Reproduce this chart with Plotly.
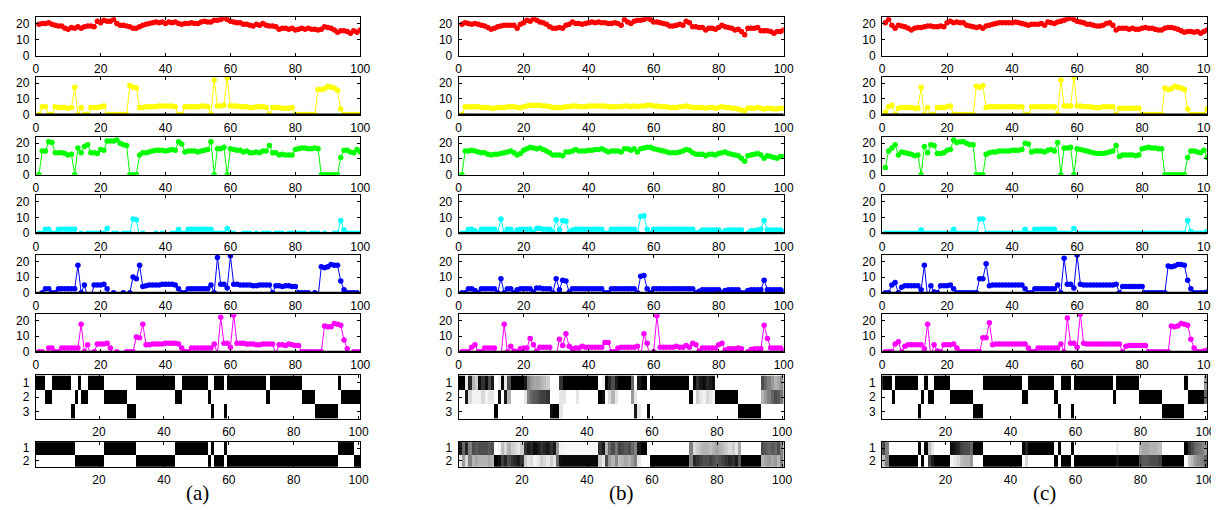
import plotly.graph_objects as go

# ---------------- data ----------------
x_idx = list(range(1, 101))

red_a = [19.5,20,20,20.5,19.5,19,18.5,18.5,17,16.5, 17.5,17,18,17,18,18.5,18.5,18,21.5,20.5,
         22,21.5,21.5,22.5,20,19,19,18.5,18,17, 17,18,19,19.5,20,20.5,21,20.5,21,20,
         21,20.5,21,20,19.5,20,20,20.5,20,20, 21,21.5,21,21,22,22,22.5,23.5,22.5,21.5,
         21,20.5,20.5,19.5,19.5,19,18.5,19.5,19,20, 19,18.5,18.5,18,16.5,17,17,16.5,17,16,
         16.5,17,16.5,17,16.5,16.5,16,16.5,18,17.5, 17,16,14.5,15.5,15.5,15,14,15.5,14.5,16]
yellow_a = [0,5,5,0,0,5,4.5,4.5,4.5,4, 4.5,17.5,0,4.5,0,0,4.5,4.5,4.5,5,
            5.5,0,0,0,0,0,0,0,18.5,17.5, 17,4.5,4.5,5,5,5,5,5.5,5.5,5.5,
            5.5,5.5,5,0,0,5,5,5,5,5, 5.5,5.5,5,0,22,5.5,5.5,6,23.5,5.5,
            5.5,5.5,5,5,5,4.5,4.5,5,5,5, 4.5,0,4.5,4.5,4.5,4,4,4,4.5,0,
            0,0,0,0,0,0,16,16,16.5,18, 17.5,17,15.5,3.5,0,0,0,0,0,0]
green_a = [0,15,15,21,20.5,14,14,14,13.5,12.5, 13,0,17,14,18,19,14,14,13.5,16,
           15.5,21.5,21.5,21.5,22,20,19,18.5,0,0, 0,12.5,14,14,14.5,15,15.5,15.5,15.5,15,
           15.5,16,15.5,21,19.5,14.5,15,15,15,14.5, 15,15.5,16,21,0,16.5,16.5,17.5,0,16.5,
           16,15.5,15.5,14.5,15,14,14,14.5,14,15, 15,18.5,14,14,12.5,13,12.5,12.5,12.5,16,
           16.5,17,17,16.5,16.5,17,16.5,0,0,0, 0,0,0,11,15.5,15.5,14.5,14,16,14.5]
cyan_a = [0,0,2.5,2.5,0,0,2.5,2.5,2.5,2.5, 2.5,2.5,-3,0,-3,0,0,0,0,0,
          0,3,-3,0,0,-3,0,0,0,9, 8.5,-3,0,-3,-3,-3,0,-3,0,-3,
          -3,0,0,2.5,0,0,2.5,2.5,2.5,2.5, 2.5,2.5,2.5,2.5,0,0,0,0,3,0,
          0,-3,-3,0,0,0,-3,0,-3,0, 0,0,-3,0,0,0,-3,0,0,0,
          0,0,0,-3,0,0,0,-3,0,-3, -3,0,0,8,2,0,0,0,0,0]
blue_a = [-3,0,2.5,2.5,0,0,2.5,2.5,2.5,2.5, 2.5,2.5,17.5,0,5,-3,-3,5,5,5,
          5.5,2.5,-3,0,-3,-3,0,-3,0,10, 9,17.5,4,4.5,5,5,5,5,5.5,5.5,
          5.5,5.5,5,2.5,0,0,2.5,2.5,2.5,2.5, 2.5,2.5,2.5,5,0,22.5,5.5,5.5,3,23.5,
          5.5,5.5,5,5,5,5,4.5,4.5,5,5, 5,5,0,4.5,4.5,4,4.5,4.5,4,4,
          0,0,0,0,-3,0,-3,16.5,16,16.5, 18,17.5,17.5,7.5,2,0,0,0,0,-3]
magenta_a = [0,0,-3,2.5,2.5,0,0,2.5,2.5,2.5, 2.5,2.5,2.5,17.5,0,4.5,-3,0,5,5,
             5,5.5,2.5,-3,0,-3,-3,0,0,0, 9.5,9,17.5,4.5,4.5,5,5,5,5,5.5,
             5.5,5.5,5.5,5,2.5,0,0,2.5,2.5,2.5, 2.5,2.5,2.5,2.5,5,-1,22,5.5,5.5,3,
             23.5,5.5,5.5,5.5,5,5,5,4.5,4.5,5, 5,5,5,-1,4.5,4.5,4,5,4.5,4,
             4,0,0,0,0,0,0,0,16.5,16, 16,18,17.5,17,7.5,2,-3,0,0,0]

red_b = [19.5,20.5,20,19.5,20,19.5,19,18.5,17.5,16.5, 17,18,18.5,19,19,19,19,17,19.5,20.5,
         22,21.5,23,22,21,20.5,19.5,18,17,17, 17.5,17,19,19.5,21,20,20,19.5,20,20.5,
         21,20.5,21,20.5,20.5,20,20,20.5,20,19, 22.5,21,20,21.5,22,22,22.5,23.5,22.5,21,
         21,20.5,20,19.5,18.5,18.5,19,19.5,19,21.5, 20.5,18,18,17.5,17.5,16,17,17,16.5,17.5,
         19,18,17.5,17,16,16.5,15,13,17,17, 17,17.5,15.5,15.5,15.5,15,14,15,15,16]
yellow_b = [0,5,5,5,5,5,4.5,4.5,4.5,4, 4,4.5,4.5,4.5,5,5,5,4.5,4.5,5,
            5.5,6,6,6,6,5.5,5.5,5,4.5,4.5, 4.5,4.5,5,5,5.5,5.5,5,5,5,5.5,
            5.5,5.5,5.5,5.5,5.5,5,5,5,5,5, 5.5,5.5,5,5.5,5,5.5,5.5,6,6,5.5,
            5.5,5,5,5,4.5,4.5,4.5,5,5,5.5, 5,4.5,4.5,4.5,4.5,4,4.5,4.5,4,4.5,
            5,4.5,4.5,4,4,3.5,3,2.5,4,4, 4,4.5,4,3.5,4,4,3.5,3.5,4,4]
green_b = [0,15,15,15.5,15,14.5,14,14,13,12.5, 13,13,13.5,14,14.5,15,14,12.5,13.5,15.5,
           16.5,17.5,17,16.5,17,16,15,14,12.5,12.5, 12.5,12,14.5,14.5,15,16,15,15,15,15.5,
           15.5,16,16,16.5,15.5,14.5,15,15,15,14.5, 16.5,16.5,15.5,16.5,14.5,16.5,17,17.5,17.5,16.5,
           16,15.5,15,14.5,14,14,14,14.5,15,16, 15.5,14,13,13,13,12,13,13,12.5,13.5,
           14,14.5,13.5,13,12.5,12,10.5,8.5,12,12.5, 13,13.5,12.5,10.5,12,11.5,11,10.5,11.5,11.5]
cyan_b = [0,0,2.5,2.5,1.5,0,2.5,2.5,2.5,2.5, 2.5,0,9,0,2.5,2.5,0,2,2.5,2.5,
          2.5,2.5,0.5,3,3,2.5,2.5,2.5,0.5,8.5, 2,8,7.5,0.5,2,2.5,2.5,2.5,2.5,2.5,
          2.5,2.5,2.5,2.5,0,0,2.5,2.5,2.5,2.5, 2.5,2.5,2.5,2.5,0,10.5,11,2.5,0,2.5,
          2.5,2.5,2.5,2.5,2.5,2.5,2.5,2.5,2.5,2.5, 2.5,2.5,0,0.5,2,2,2,2,2,2,
          0,1.5,2,2,2,2,2,-3,0,1.5, 1.5,2,2.5,8,2,2,2,2,2,1]
blue_b = [0,0,2.5,2.5,1.5,0,2.5,2.5,2.5,2.5, 2.5,0,9,0,2.5,2.5,0,2,2.5,2.5,
          2.5,2.5,0.5,3,3,2.5,2.5,2.5,0,9, 2,8,7.5,0.5,2.5,2.5,2.5,2.5,2.5,2.5,
          2.5,2.5,2.5,2.5,0,0,2.5,2.5,2.5,2.5, 2.5,2.5,2.5,2.5,0,10.5,11,2.5,0,2.5,
          2.5,2.5,2.5,2.5,2.5,2.5,2.5,2.5,2.5,2.5, 2.5,2.5,0,1,2,2,2,2,2,2,
          0,1.5,2,2,2,2,0,0,1.5,2, 2,2,2,8,2,2,2,2,2,1]
magenta_b = [0,0,0,3,4.5,0,0,2.5,2.5,2.5, 2.5,-3,-3,17.5,0,3.5,0.5,0,2,2.5,
             2.5,8.5,4.5,0.5,3,3,3,3,-3,-3, 8,4,11.5,3.5,2,2.5,2.5,3.5,3,3,
             3,3,3,3,6,6,0,0,2.5,3, 3,3,3,3,3.5,-3,11.5,5.5,-3,0,
             23,3,3,3,3,3,3.5,3,3,4, 3,5.5,4.5,0.5,2.5,2.5,2.5,2.5,2.5,4.5,
             5.5,1,2,2,2,2.5,2,-3,0,1.5, 2,2,2,17,8.5,2.5,2.5,2.5,2.5,1]

red_c = [20.5,22.5,19,17,19,18.5,18,17,16,17, 17.5,17.5,18,18.5,18.5,18,18,18.5,18,20.5,
         21.5,20.5,21,20.5,20.5,19,18.5,18,17.5,18, 17,18.5,19,19.5,20,20.5,20.5,20.5,20.5,20.5,
         21,20.5,20,19.5,19,19.5,19.5,19.5,20,19, 21,20.5,20,21,21.5,22,23,23.5,22.5,21.5,
         21,20.5,19.5,19.5,19,18.5,18.5,19,20,20.5, 19,16,17,17,17,16.5,17,16.5,16.5,17,
         17.5,17,17,16.5,16,16,17,17.5,17.5,17, 16.5,15.5,14.5,15,15,14.5,15,14,15,16]
yellow_c = [1.5,5,6,0,4,4.5,4.5,4.5,4.5,4, 4,17.5,0,4.5,0,0,4.5,4.5,4.5,5,
            5.5,0,0,0,0,0,0,0,18,17.5, 18.5,4.5,5,5,5,5,5,5,5,5,
            5,5,5,0,0,5,5,5,5,5, 5,5,5,0,22,5.5,5.5,5.5,24,5.5,
            5.5,5,5,5,4.5,4.5,4.5,5,5,5, 5,0,4,4,4,4,4,4,4,0,
            0,0,0,0,0,0,17,16,16.5,18, 17.5,17,16,3.5,0,0,0,0,0,3.5]
green_c = [4.5,15,17,19,12.5,14.5,14,13.5,13,12, 12.5,0,18,14,19,18.5,13.5,13.5,14,15.5,
           16,22,20.5,21,21,20,19,19,0,0, 0,13,14,14.5,14.5,15,15,15,15,15.5,
           15.5,15.5,16,20,19.5,14.5,15,15,15,14.5, 15.5,16,15,20.5,0,17,17,17.5,0,16.5,
           16,15.5,15,14.5,14,13.5,13.5,13.5,14,14.5, 15,18.5,11.5,12.5,12.5,12.5,12.5,12,12.5,16.5,
           17,17.5,17,17,16.5,16.5,0,0,0,0, 0,0,0,11,15,15,14.5,14,15.5,11]
cyan_c = [0,0,0,0,0,0,0,0,0,0, 0,2,0,0,0,0,0,0,0,0,
          0,2.5,0,0,0,0,0,0,0,9, 9,0,0,0,0,0,0,0,0,0,
          0,0,0,2.5,0,0,2.5,2.5,2.5,2.5, 2.5,2.5,2.5,0,0,0,0,0,3,0,
          0,0,0,0,0,0,0,0,0,0, 0,0,0,0,0,0,0,0,0,0,
          0,0,0,0,0,0,0,0,0,0, 0,0,0,8,1,0,0,0,0,1]
blue_c = [0,0,5,6.5,0,3.5,4.5,4.5,4.5,4.5, 4.5,2,17.5,-3,4.5,0.5,0,4.5,4.5,4.5,
          5,2.5,0,0,0,0,0,0,0,9, 9,18.5,4.5,5,5,5,5,5,5,5,
          5,5,5,2.5,0,0,2.5,2.5,2.5,2.5, 2.5,2.5,2.5,5,0,22,5.5,5.5,3,24,
          5.5,5,5,5,5,5,5,5,5,5, 5,5.5,0,4,4,4,4,4,4,4,
          0,0,0,0,0,0,0,17,16.5,17, 18,18,17.5,8,2.5,0,0,0,0,0.5]
magenta_c = [0,0,0,5,6.5,0,3.5,4.5,4.5,4.5, 4.5,4.5,2,17.5,-3,4.5,0.5,0,4.5,4.5,
             4.5,5,2.5,0,0,0,0,0,0,0, 9,9,18.5,4.5,5,5,5,5,5,5,
             5,5,5,5,2.5,0,0,2.5,2.5,2.5, 2.5,2.5,2.5,2.5,5,0,21.5,5.5,5.5,3,
             24,5.5,5,5,5,5,5,5,5,5, 5,5,5,0,3.5,4,4,4,4,4,
             4,0,0,0,0,0,0,0,16.5,16, 16.5,18,17.5,17,8,2.5,0,0,0.5,1]

# state heatmaps (1 = black)
hm1_a_r1 = [1,1,1,0,0,1,1,1,1,1, 1,0,0,1,0,0,1,1,1,1, 1,0,0,0,0,0,0,0,0,0, 0,1,1,1,1,1,1,1,1,1,
            1,1,1,0,0,1,1,1,1,1, 1,1,1,0,0,1,1,1,0,1, 1,1,1,1,1,1,1,1,1,1, 1,0,1,1,1,1,1,1,1,1,
            1,1,0,0,0,0,0,0,0,0, 0,0,0,1,0,0,0,0,0,0]
hm1_a_r2 = [0,0,0,1,1,0,0,0,0,0, 0,0,1,0,1,1,0,0,0,0, 0,1,1,1,1,1,1,1,0,0, 0,0,0,0,0,0,0,0,0,0,
            0,0,0,1,1,0,0,0,0,0, 0,0,0,1,0,0,0,0,0,0, 0,0,0,0,0,0,0,0,0,0, 0,1,0,0,0,0,0,0,0,0,
            0,0,1,1,1,1,0,0,0,0, 0,0,0,0,1,1,1,1,1,1]
hm1_a_r3 = [0,0,0,0,0,0,0,0,0,0, 0,1,0,0,0,0,0,0,0,0, 0,0,0,0,0,0,0,0,1,1, 1,0,0,0,0,0,0,0,0,0,
            0,0,0,0,0,0,0,0,0,0, 0,0,0,0,1,0,0,0,1,0, 0,0,0,0,0,0,0,0,0,0, 0,0,0,0,0,0,0,0,0,0,
            0,0,0,0,0,0,1,1,1,1, 1,1,1,0,0,0,0,0,0,0]
hm2_a_r1 = [1,1,1,1,1,1,1,1,1,1, 1,1,0,0,0,0,0,0,0,0, 0,1,1,1,1,1,1,1,1,1, 1,0,0,0,0,0,0,0,0,0,
            0,0,0,1,1,1,1,1,1,1, 1,1,1,0,1,0,0,0,1,0, 0,0,0,0,0,0,0,0,0,0, 0,0,0,0,0,0,0,0,0,0,
            0,0,0,0,0,0,0,0,0,0, 0,0,0,1,1,1,1,1,0,0]
hm2_a_r2 = [0,0,0,0,0,0,0,0,0,0, 0,0,1,1,1,1,1,1,1,1, 1,0,0,0,0,0,0,0,0,0, 0,1,1,1,1,1,1,1,1,1,
            1,1,1,0,0,0,0,0,0,0, 0,0,0,1,0,1,1,1,0,1, 1,1,1,1,1,1,1,1,1,1, 1,1,1,1,1,1,1,1,1,1,
            1,1,1,1,1,1,1,1,1,1, 1,1,1,0,0,0,0,0,1,1]

hm1_b_r1 = [1,1,0.1,0.85,0.3,0.2,0.95,0.8,0.95,0.7, 0.9,0,0.05,1,0.1,0.7,1,1,1,1,
            0.9,0.5,0.4,0.35,0.35,0.3,0.25,0.2,0,0, 0,0.8,1,1,1,1,1,1,1,1,
            1,1,1,0,0.05,1,0.85,0.7,0.9,1, 1,1,1,0.6,0,0.9,1,1,0,1,
            1,1,1,1,1,1,1,1,1,1, 1,0,1,0.8,0.9,0.95,0.85,0.9,0.95,0,
            0,0,0,0,0,0,0,0,0,0, 0,0,0,0.7,0.6,0.5,0.4,0.3,0.35,0.45]
hm1_b_r2 = [0,0,0.9,0.15,0.05,0.05,0.05,0.15,0.05,0.1, 0.1,0,0.95,0,0.9,0.3,0,0,0,0,
            0.1,0.5,0.6,0.65,0.7,0.75,0.75,0.8,0,0, 0,0.1,0.1,0,0,0,0.1,0,0,0,
            0,0,0,1,0.95,0,0.15,0.3,0.1,0, 0,0,0,0.4,0.1,0,0,0,0,0,
            0,0,0,0,0,0,0,0,0,0, 0,1,0,0.2,0.1,0.05,0.15,0.1,0.05,1,
            1,1,1,1,1,1,0,0,0,0, 0,0,0,0.3,0.4,0.5,0.6,0.7,0.65,0.55]
hm1_b_r3 = [0,0,0,0,0,0,0,0,0,0, 0,1,0,0,0,0,0,0,0,0, 0,0,0,0,0,0,0,0,0.95,1,
            1,0.1,0,0,0,0,0,0,0,0, 0,0,0,0,0,0,0,0,0,0, 0,0,0,0,0.9,0.1,0,0,1,0,
            0,0,0,0,0,0,0,0,0,0, 0,0,0,0,0,0,0,0,0,0, 0,0,0,0,0,0,1,1,1,1,
            1,1,1,0,0,0,0,0,0,0]
hm2_b_r1 = [0.9,0.6,0.85,0.5,0.7,0.65,0.7,0.7,0.7,0.65, 0.7,0,0.05,0.25,0.15,0.3,0.2,0.15,0.1,0.2,
            0.8,0.9,0.85,0.95,0.9,0.8,0.85,0.9,0.8,0.9, 0.4,0.05,0.03,0.03,0.03,0.03,0.03,0.03,0.03,0.03,
            0.03,0.03,0.03,0.8,0.9,0.3,0.6,0.7,0.55,0.75, 0.7,0.65,0.7,0.6,0.5,0.9,1,1,0,0,
            0,0,0,0,0,0,0,0,0,0, 0,0.5,0.15,0.2,0.25,0.3,0.3,0.25,0.3,0.35,
            0.3,0.25,0.2,0.15,0.2,0.1,0.35,0,0,0, 0,0,0,0.7,0.65,0.6,0.65,0.6,0.7,0.5]
hm2_b_r2 = [0.1,0.4,0.15,0.5,0.3,0.35,0.3,0.3,0.3,0.35, 0.3,1,0.95,0.75,0.85,0.7,0.8,0.85,0.9,0.8,
            0.2,0.1,0.15,0.05,0.1,0.2,0.15,0.1,0.2,0.1, 0.6,0.95,0.97,0.97,0.97,0.97,0.97,0.97,0.97,0.97,
            0.97,0.97,0.97,0.2,0.1,0.7,0.4,0.3,0.45,0.25, 0.3,0.35,0.3,0.4,0.5,0.1,0,0,0,1,
            1,1,1,1,1,1,1,1,1,1, 1,0.5,0.85,0.8,0.75,0.7,0.7,0.75,0.7,0.65,
            0.7,0.75,0.8,0.85,0.8,0.9,0.65,1,1,1, 1,1,1,0.3,0.35,0.4,0.35,0.4,0.3,0.5]

hm1_c_r1 = [1,1,1,0,1,1,1,1,1,1, 1,0,0,1,0,0,1,1,1,1, 1,0,0,0,0,0,0,0,0,0, 0,1,1,1,1,1,1,1,1,1,
            1,1,1,0,0,1,1,1,1,1, 1,1,1,0,0,1,1,1,0,1, 1,1,1,1,1,1,1,1,1,1, 1,0,1,1,1,1,1,1,1,0,
            0,0,0,0,0,0,0,0,0,0, 0,0,0,1,0,0,0,0,0,0.4]
hm1_c_r2 = [0,0,0,1,0,0,0,0,0,0, 0,0,1,0,1,1,0,0,0,0, 0,1,1,1,1,1,1,1,0,0, 0,0,0,0,0,0,0,0,0,0,
            0,0,0,1,1,0,0,0,0,0, 0,0,0,1,0,0,0,0,0,0, 0,0,0,0,0,0,0,0,0,0, 0,1,0,0,0,0,0,0,0,1,
            1,1,1,1,1,1,0,0,0,0, 0,0,0,0,1,1,1,1,1,0.6]
hm1_c_r3 = [0,0,0,0,0,0,0,0,0,0, 0,1,0,0,0,0,0,0,0,0, 0,0,0,0,0,0,0,0,1,1, 1,0,0,0,0,0,0,0,0,0,
            0,0,0,0,0,0,0,0,0,0, 0,0,0,0,1,0,0,0,1,0, 0,0,0,0,0,0,0,0,0,0, 0,0,0,0,0,0,0,0,0,0,
            0,0,0,0,0,0,1,1,1,1, 1,1,1,0,0,0,0,0,0,0]
hm2_c_r1 = [0.75,0.5,0,0,0,0,0,0,0,0, 0,1,0,1,0.25,0.1,0,0,0,0, 0,0.95,0.9,0.85,0.75,0.7,0.7,0.6,1,1,
            1,0,0,0,0,0,0,0,0,0, 0,0,0,1,0.85,1,1,1,1,1, 1,1,1,0,1,0,0,0,1,0,
            0,0,0,0,0,0,0,0,0,0, 0,0,0.08,0,0,0,0,0,0,0.3, 0.35,0.35,0.3,0.3,0.3,0.25,0,0,0,0,
            0,0,0,1,0.8,0.7,0.6,0.55,0.5,0.4]
hm2_c_r2 = [0.25,0.5,1,1,1,1,1,1,1,1, 1,0,1,0,0.75,0.9,1,1,1,1, 1,0.05,0.1,0.15,0.25,0.3,0.3,0.4,0,0,
            0,1,1,1,1,1,1,1,1,1, 1,1,1,0,0.15,0,0,0,0,0, 0,0,0,1,0,1,1,1,0,1,
            1,1,1,1,1,1,1,1,1,1, 1,1,0.92,1,1,1,1,1,1,0.7, 0.65,0.65,0.7,0.7,0.7,0.75,1,1,1,1,
            1,1,1,0,0.2,0.3,0.4,0.45,0.5,0.6]

hm_rows3 = [1, 2, 3]
hm_rows2 = [1, 2]
line_ticks = [0, 20, 40, 60, 80, 100]
y_ticks = [0, 10, 20]
hm_x_ticks = [20, 40, 60, 80, 100]
panel_labels = ["(a)", "(b)", "(c)"]

columns = [
    [red_a, yellow_a, green_a, cyan_a, blue_a, magenta_a,
     [hm1_a_r1, hm1_a_r2, hm1_a_r3], [hm2_a_r1, hm2_a_r2]],
    [red_b, yellow_b, green_b, cyan_b, blue_b, magenta_b,
     [hm1_b_r1, hm1_b_r2, hm1_b_r3], [hm2_b_r1, hm2_b_r2]],
    [red_c, yellow_c, green_c, cyan_c, blue_c, magenta_c,
     [hm1_c_r1, hm1_c_r2, hm1_c_r3], [hm2_c_r1, hm2_c_r2]],
]

# ---------------- layout geometry (pixels) ----------------
W, H = 1219, 510
col_px = [(25, 353), (452.5, 781), (880.5, 1209)]
row_px = [(8.3, 47.3), (69, 107.3), (130, 168.3), (189.3, 227.7),
          (250, 288.3), (310, 348.3), (372.3, 416.3), (440, 465)]
colors = ["#ff0000", "#ffff00", "#00ff00", "#00ffff", "#0000ff", "#ff00ff"]
thick_bottom = [False, True, False, True, True, True]

FONT = "Liberation Sans, Arial, sans-serif"
fig = go.Figure()
layout = dict(width=W, height=H, margin=dict(l=0, r=0, t=0, b=0),
              paper_bgcolor="white", plot_bgcolor="white", showlegend=False,
              font=dict(family=FONT, size=12, color="black"))
shapes = []
annotations = []

axis_common = dict(showline=True, linecolor="black", linewidth=1, mirror="ticks",
                   ticks="inside", ticklen=3, tickcolor="black", tickwidth=1,
                   showgrid=False, zeroline=False,
                   tickfont=dict(family=FONT, size=12, color="black"))

n = 0
for ci, col in enumerate(columns):
    x0p, x1p = col_px[ci]
    xdom = [x0p / W, x1p / W]
    for ri in range(8):
        n += 1
        t0, t1 = row_px[ri]
        ydom = [1 - t1 / H, 1 - t0 / H]
        xa, ya = f"x{n}", f"y{n}"
        if ri < 6:
            fig.add_trace(go.Scatter(x=x_idx, y=col[ri], xaxis=xa, yaxis=ya,
                                     mode="lines+markers", cliponaxis=True,
                                     line=dict(color=colors[ri], width=1),
                                     marker=dict(color=colors[ri], size=5.5)))
            layout[f"xaxis{n}"] = dict(axis_common, domain=xdom, anchor=ya,
                                       range=[0, 100], tickvals=line_ticks, ticklabelstandoff=2)
            layout[f"yaxis{n}"] = dict(axis_common, domain=ydom, anchor=xa,
                                       range=[0, 24], tickvals=y_ticks, ticklabelstandoff=3)
            if thick_bottom[ri]:
                shapes.append(dict(type="line", xref=f"{xa} domain", yref=f"{ya} domain",
                                   x0=0, x1=1, y0=0, y1=0, layer="above",
                                   line=dict(color="black", width=2.2)))
        else:
            rows = col[ri]
            yl = hm_rows3 if len(rows) == 3 else hm_rows2
            fig.add_trace(go.Heatmap(z=rows, x=x_idx, y=yl, xaxis=xa, yaxis=ya,
                                     colorscale=[[0, "white"], [1, "black"]],
                                     zmin=0, zmax=1, showscale=False))
            layout[f"xaxis{n}"] = dict(axis_common, domain=xdom, anchor=ya,
                                       range=[0.5, 100.5], tickvals=hm_x_ticks, ticklabelstandoff=2)
            layout[f"yaxis{n}"] = dict(axis_common, domain=ydom, anchor=xa,
                                       range=[len(yl) + 0.5, 0.5], tickvals=yl, ticklabelstandoff=3)
    annotations.append(dict(text=panel_labels[ci], xref="paper", yref="paper",
                            x=(x0p + x1p) / 2 / W, y=1 - 492 / H, showarrow=False,
                            xanchor="center", yanchor="middle",
                            font=dict(family="Liberation Serif, DejaVu Serif, serif", size=21, color="black")))

layout["shapes"] = shapes
layout["annotations"] = annotations
fig.update_layout(**layout)
fig.write_html("out.html")
